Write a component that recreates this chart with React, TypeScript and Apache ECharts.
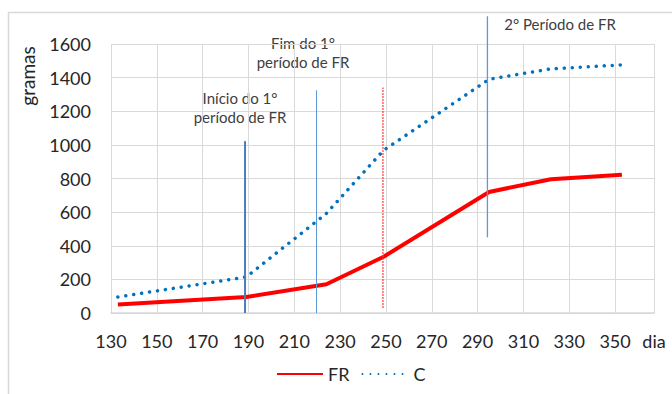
import React, { useEffect, useRef } from "react";
import * as echarts from "echarts";

const days = [133, 189, 224, 249, 295, 322, 353];
const frValues = [50, 95, 171, 335, 720, 796, 822];
const cValues = [95, 214, 592, 968, 1390, 1452, 1476];

const xMin = 130;
const xMax = 367;
const xInterval = 20;
const yMin = 0;
const yMax = 1600;
const yInterval = 200;

// vertical marker lines: [day, fromValue, toValue]
const markerInicio = [188.5, 0, 1022];
const markerFim = [219.7, 0, 1325];
const markerRed = [248.7, 30, 1341];
const markerSegundo = [294.3, 450, 1765];

const annotationInicio = ["Início do 1°", "período de FR"];
const annotationFim = ["Fim do 1°", "período de FR"];
const annotationSegundo = "2° Período de FR";

const FONT = "Lato, 'Open Sans', sans-serif";

export default function App() {
  const ref = useRef<HTMLDivElement>(null);
  useEffect(() => {
    if (!ref.current) return;
    const chart = echarts.init(ref.current, null, { renderer: "svg" });
    const vline = (m: number[], color: string, width: number, type: any, name: string) => ({
      name,
      type: "line",
      data: [
        [m[0], m[1]],
        [m[0], m[2]],
      ],
      symbol: "none",
      silent: true,
      clip: false,
      z: 5,
      lineStyle: { color, width, type },
    });
    chart.setOption({
      animation: false,
      backgroundColor: "#ffffff",
      textStyle: { fontFamily: FONT },
      grid: { left: 111, right: 18, top: 44, bottom: 81, containLabel: false },
      legend: {
        data: ["FR", "C"],
        left: 271,
        top: 360,
        itemWidth: 46,
        itemHeight: 14,
        itemGap: 12,
        itemStyle: { opacity: 0 },
        textStyle: { fontFamily: FONT, fontSize: 18, color: "#262626" },
      },
      xAxis: {
        type: "value",
        min: xMin,
        max: xMax,
        interval: xInterval,
        axisLine: { show: true, lineStyle: { color: "#d9d9d9", width: 1.5 } },
        axisTick: { show: false },
        splitLine: { show: true, lineStyle: { color: "#d9d9d9", width: 1 } },
        axisLabel: {
          margin: 19,
          fontSize: 18,
          fontFamily: FONT,
          color: "#262626",
          showMaxLabel: true,
          formatter: (v: number) => (v === xMax ? "dia" : String(v)),
        },
      },
      yAxis: {
        type: "value",
        min: yMin,
        max: yMax,
        interval: yInterval,
        axisLine: { show: false },
        axisTick: { show: false },
        splitLine: { show: true, lineStyle: { color: "#d9d9d9", width: 1 } },
        axisLabel: {
          margin: 20,
          fontSize: 18,
          fontFamily: FONT,
          color: "#262626",
          formatter: (v: number) => String(v),
        },
      },
      series: [
        {
          name: "FR",
          type: "line",
          data: days.map((d, i) => [d, frValues[i]]),
          symbol: "none",
          lineStyle: { color: "#ff0000", width: 4 },
          itemStyle: { color: "#ff0000" },
          z: 3,
        },
        {
          name: "C",
          type: "line",
          data: days.map((d, i) => [d, cValues[i]]),
          symbol: "none",
          lineStyle: { color: "#0070c0", width: 3.5, type: [0.01, 8], cap: "round" },
          itemStyle: { color: "#0070c0" },
          z: 3,
        },
        vline(markerInicio, "#4a7ebb", 2, "solid", "m1"),
        vline(markerFim, "#5b9bd5", 1, "solid", "m2"),
        vline(markerRed, "#ff3b3b", 1.2, [2, 1], "m3"),
        vline(markerSegundo, "#5b9bd5", 1.3, "solid", "m4"),
      ],
      graphic: [
        {
          type: "rect",
          silent: true,
          shape: { x: 8.5, y: 12.5, width: 700, height: 400 },
          style: { fill: "none", stroke: "#d9d9d9", lineWidth: 1.5 },
          z: -1,
        },
        {
          type: "text",
          x: 27,
          y: 76,
          rotation: Math.PI / 2,
          style: {
            text: "gramas",
            align: "center",
            verticalAlign: "middle",
            font: `19px ${FONT}`,
            fill: "#262626",
          },
        },
        {
          type: "text",
          x: 240,
          y: 107,
          style: {
            text: annotationInicio.join("\n"),
            align: "center",
            verticalAlign: "middle",
            font: `15px ${FONT}`,
            lineHeight: 19,
            fill: "#404040",
          },
        },
        {
          type: "text",
          x: 303,
          y: 52,
          style: {
            text: annotationFim.join("\n"),
            align: "center",
            verticalAlign: "middle",
            font: `15px ${FONT}`,
            lineHeight: 19,
            fill: "#404040",
          },
        },
        {
          type: "text",
          x: 560,
          y: 24,
          style: {
            text: annotationSegundo,
            align: "center",
            verticalAlign: "middle",
            font: `15px ${FONT}`,
            fill: "#404040",
          },
        },
      ],
    });
    return () => chart.dispose();
  }, []);
  return (
    <div
      ref={ref}
      style={{ position: "fixed", left: 0, top: 0, width: 672, height: 394, background: "#fff" }}
    />
  );
}
